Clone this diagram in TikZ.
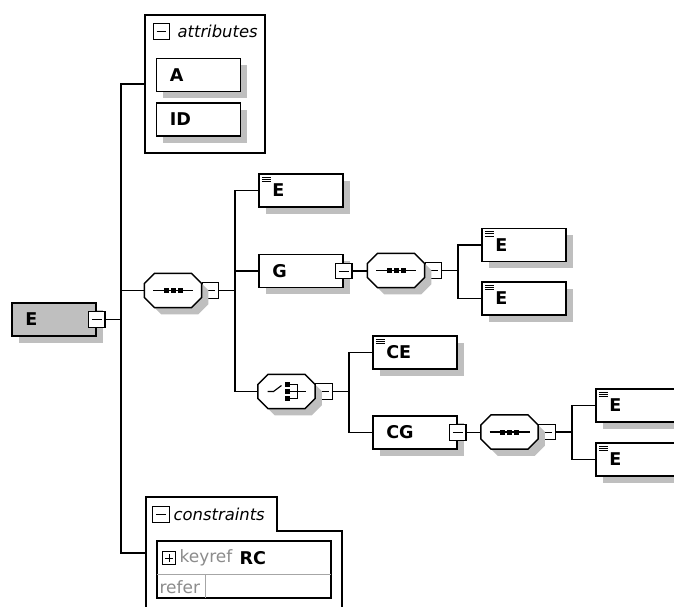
\documentclass[tikz,border=0pt]{standalone}
\usepackage{fontspec}
\setmainfont{DejaVu Sans}
\usetikzlibrary{shadows, calc}

\tikzset{
  shade/.style={drop shadow={shadow xshift=0.2cm, shadow yshift=-0.2cm, fill=black!25, opacity=1}},
  elem/.style={draw, line width=1.2pt, fill=white, shade, minimum height=0.99cm, text width=1.72cm,
    inner xsep=0.4cm, inner ysep=0pt, align=left, font=\bfseries\fontsize{15}{17}\selectfont},
  leaf/.style={elem, path picture={
    \foreach \dy in {2.5pt,4.5pt,6.5pt}
      \draw[line width=0.7pt] ([xshift=2.5pt,yshift=-\dy]path picture bounding box.north west) -- ++(8pt,0);}},
  btn/.style={draw, line width=1pt, fill=white, minimum width=0.5cm, minimum height=0.47cm, inner sep=0pt,
    path picture={\draw[line width=0.8pt] ([xshift=3pt]path picture bounding box.west) -- ([xshift=-3pt]path picture bounding box.east);}},
  plusbtn/.style={draw, line width=1pt, fill=white, minimum size=0.37cm, inner sep=0pt,
    path picture={
      \draw[line width=0.8pt] ([xshift=2pt]path picture bounding box.west) -- ([xshift=-2pt]path picture bounding box.east);
      \draw[line width=0.8pt] ([yshift=2pt]path picture bounding box.south) -- ([yshift=-2pt]path picture bounding box.north);}},
  octbox/.style={minimum width=1.68cm, minimum height=0.99cm, inner sep=0pt},
  octline/.style={draw, line width=1.2pt, fill=white, shade},
  grp/.style={draw, line width=1.2pt, fill=white, inner sep=0pt},
  ital/.style={font=\itshape\fontsize{14}{16}\selectfont, inner sep=0pt, anchor=west},
  note/.style={font=\fontsize{14.5}{17}\selectfont, text=black!45, inner sep=0pt, anchor=west}
}

\begin{document}
\begin{tikzpicture}[x=0.03cm, y=-0.03cm, line width=1pt]
\useasboundingbox (0,0) rectangle (674,606);
% 属性
\node[grp, minimum width=3.6cm, minimum height=4.14cm] (attr) at (205,84) {};
\node[btn] (attrBtn) at (161.5,31.5) {};
\node[ital] at (177,31) {attributes};
\node[elem] (A) at (198.5,75) {A};
\node[elem] (ID) at (198.5,119.5) {ID};
% 根元素
\node[elem, fill=black!25] (root) at (54,319.5) {E};
\node[btn] (rootBtn) at (root.east) {};
% 第一层顺序组
\node[octbox] (seqA) at (173,290.5) {};
\node[btn, anchor=west] (seqABtn) at (seqA.east) {};
\node[leaf] (e1) at (301,190.5) {E};
\node[elem] (G) at (301,271) {G};
\node[btn] (GBtn) at (G.east) {};
\node[octbox] (seqB) at (396,270.5) {};
\node[btn, anchor=west] (seqBBtn) at (seqB.east) {};
\node[leaf] (e2) at (524,245) {E};
\node[leaf] (e3) at (524,298.5) {E};
% 选择组
\node[octbox] (choice) at (286.5,391.5) {};
\node[btn, anchor=west] (choiceBtn) at (choice.east) {};
\node[leaf] (CE) at (415,352.5) {CE};
\node[elem] (CG) at (415,432.5) {CG};
\node[btn] (CGBtn) at (CG.east) {};
\node[octbox] (seqC) at (509.5,432) {};
\node[btn, anchor=west] (seqCBtn) at (seqC.east) {};
\node[leaf] (e4) at (638,405.5) {E};
\node[leaf] (e5) at (638,459.5) {E};
% 八边形外框
\foreach \n in {seqA,seqB,seqC,choice}
  \draw[octline] ($(\n.north west)+(10,0)$) -- ($(\n.north east)+(-10,0)$) -- ($(\n.north east)+(0,10)$)
    -- ($(\n.south east)+(0,-10)$) -- ($(\n.south east)+(-10,0)$) -- ($(\n.south west)+(10,0)$)
    -- ($(\n.south west)+(0,-10)$) -- ($(\n.north west)+(0,10)$) -- cycle;
% 组内图标
\foreach \n in {seqA,seqB,seqC} {
  \draw ($(\n)+(-20,0)$) -- ($(\n)+(20,0)$);
  \foreach \dx in {-7,0,7} \fill ($(\n)+(\dx,0)$) +(-2.5,-2.5) rectangle +(2.5,2.5);
}
\draw ($(choice)+(-19,0)$) -- ++(6,0) -- ++(8,-6);
\foreach \dy in {-7,0,7} \fill ($(choice)+(0.5,\dy)$) +(-2.5,-2.5) rectangle +(2.5,2.5);
\draw ($(choice)+(3,-7)$) -- ++(8,0) -- ++(0,14) -- ++(-8,0);
\draw ($(choice)+(3,0)$) -- ++(16,0);
% 约束
\draw[line width=1.2pt, fill=white] (146,625) -- (146,497) -- (277,497) -- (277,531) -- (342,531) -- (342,625);
\coordinate (consIn) at (146,553);
\node[btn] (consBtn) at (161,514.5) {};
\node[ital] at (173,514) {constraints};
\node[draw, line width=1.2pt, minimum width=5.22cm, minimum height=1.71cm, inner sep=0pt] (keyref) at (244,569.5) {};
\draw[black!35, line width=0.8pt] (157,574) -- (331,574);
\draw[black!35, line width=0.8pt] (205,574) -- (205,598);
\node[plusbtn] (kPlus) at (169,558) {};
\node[note] at (179,558) {keyref};
\node[ital, font=\bfseries\fontsize{15}{17}\selectfont] at (239,558) {RC};
\node[note] at (159,587) {refer};
% 连线
\coordinate (bus0) at (121,0);
\coordinate (bus1) at (235,0);
\coordinate (bus2) at (458,0);
\coordinate (bus3) at (349,0);
\coordinate (bus4) at (572,0);
\draw (attr.west) -- (attr.west -| bus0) |- (consIn);
\draw (rootBtn.east) -- (rootBtn.east -| bus0);
\draw (seqA.west) -- (seqA.west -| bus0);
\draw (seqABtn.east) -- (seqABtn.east -| bus1);
\draw (e1.west) -- (e1.west -| bus1) |- (choice.west);
\draw (G.west) -- (G.west -| bus1);
\draw (GBtn.east) -- (GBtn.east -| seqB.west);
\draw (seqBBtn.east) -- (seqBBtn.east -| bus2);
\draw (e2.west) -- (e2.west -| bus2) |- (e3.west);
\draw (choiceBtn.east) -- (choiceBtn.east -| bus3);
\draw (CE.west) -- (CE.west -| bus3) |- (CG.west);
\draw (CGBtn.east) -- (CGBtn.east -| seqC.west);
\draw (seqCBtn.east) -- (seqCBtn.east -| bus4);
\draw (e4.west) -- (e4.west -| bus4) |- (e5.west);
\end{tikzpicture}
\end{document}
